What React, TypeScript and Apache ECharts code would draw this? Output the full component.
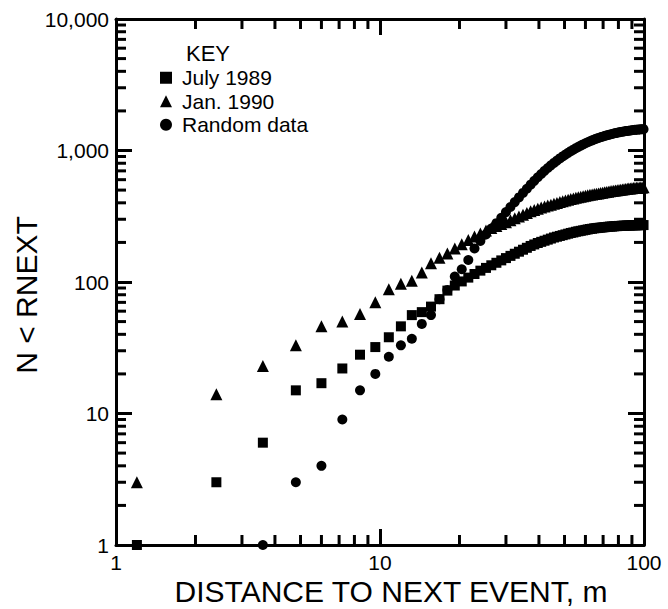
import React, { useEffect, useRef } from "react";
import * as echarts from "echarts";

// Distance to next event (m)
const DISTANCE = [
  1.2, 2.4, 3.6, 4.8, 6.0, 7.2, 8.4, 9.6, 10.8, 12.0,
  13.2, 14.4, 15.6, 16.8, 18.0, 19.2, 20.4, 21.6, 22.8, 24.0,
  25.2, 26.4, 27.6, 28.8, 30.0, 31.2, 32.4, 33.6, 34.8, 36.0,
  37.2, 38.4, 39.6, 40.8, 42.0, 43.2, 44.4, 45.6, 46.8, 48.0,
  49.2, 50.4, 51.6, 52.8, 54.0, 55.2, 56.4, 57.6, 58.8, 60.0,
  61.2, 62.4, 63.6, 64.8, 66.0, 67.2, 68.4, 69.6, 70.8, 72.0,
  73.2, 74.4, 75.6, 76.8, 78.0, 79.2, 80.4, 81.6, 82.8, 84.0,
  85.2, 86.4, 87.6, 88.8, 90.0, 91.2, 92.4, 93.6, 94.8, 96.0,
  97.2, 98.4, 99.6,
];

const JULY_1989 = [
  1, 3, 6, 15, 17, 22, 28, 32, 38, 46,
  56, 59, 65, 74, 86, 94, 101, 108, 115, 122,
  128, 134, 140, 146, 152, 158, 164, 170, 176, 182,
  188, 193, 198, 202, 206, 210, 214, 218, 221, 224,
  227, 230, 233, 236, 238, 241, 243, 245, 247, 249,
  251, 253, 254, 256, 257, 258, 259, 260, 261, 262,
  263, 264, 264, 265, 266, 266, 267, 267, 268, 268,
  268, 269, 269, 269, 270, 270, 270, 270, 270, 271,
  271, 271, 271,
];

const JAN_1990 = [
  3, 14, 23, 33, 46, 50, 57, 70, 88, 97,
  102, 118, 139, 153, 165, 180, 194, 209, 222, 234,
  246, 257, 267, 276, 285, 295, 305, 315, 325, 335,
  345, 353, 361, 368, 375, 381, 387, 393, 399, 405,
  411, 417, 422, 427, 432, 437, 441, 445, 449, 453,
  457, 460, 463, 466, 469, 472, 475, 478, 481, 484,
  486, 489, 491, 494, 496, 499, 501, 503, 505, 507,
  509, 511, 513, 515, 516, 518, 519, 520, 521, 522,
  523, 524, 525,
];

const RANDOM_DATA = [
  null, null, 1, 3, 4, 9, 15, 20, 27, 33,
  37, 48, 56, 74, 87, 110, 125, 147, 180, 205,
  230, 255, 280, 308, 340, 372, 405, 440, 476, 512,
  550, 588, 626, 663, 700, 736, 771, 805, 838, 870,
  901, 931, 960, 988, 1015, 1041, 1066, 1090, 1113, 1135,
  1156, 1176, 1195, 1213, 1230, 1246, 1261, 1275, 1289, 1302,
  1314, 1325, 1336, 1346, 1356, 1365, 1374, 1382, 1390, 1397,
  1404, 1410, 1416, 1421, 1426, 1431, 1435, 1439, 1442, 1445,
  1448, 1450, 1452,
];

const X_TICK_LABELS = ["1", "10", "100"];
const Y_TICK_LABELS = ["1", "10", "100", "1,000", "10,000"];
const X_MINOR = [2, 3, 4, 5, 6, 7, 8, 9, 20, 30, 40, 50, 60, 70, 80, 90];
const Y_MINOR = [
  2, 3, 4, 5, 6, 7, 8, 9,
  20, 30, 40, 50, 60, 70, 80, 90,
  200, 300, 400, 500, 600, 700, 800, 900,
  2000, 3000, 4000, 5000, 6000, 7000, 8000, 9000,
];

const FONT = "'Liberation Sans', Arial, Helvetica, sans-serif";
const INK = "#000";

function pairs(vals: (number | null)[]) {
  const out: number[][] = [];
  vals.forEach((v, i) => {
    if (v !== null && v !== undefined) out.push([DISTANCE[i], v]);
  });
  return out;
}

function logAxis(position: string, min: number, max: number, extra: any = {}) {
  return {
    type: "log",
    position,
    min,
    max,
    axisLine: { show: true, onZero: false, lineStyle: { color: INK, width: 3 } },
    axisTick: { show: true, inside: true, length: 16, lineStyle: { color: INK, width: 3 } },
    splitLine: { show: false },
    axisLabel: { show: false },
    ...extra,
  };
}

// Minor tick marks drawn as small bars placed through the chart's own log axes.
function tickSeries(data: number[][], size: number[], offset: number[]) {
  return {
    type: "scatter",
    symbol: "rect",
    symbolSize: size,
    symbolOffset: offset,
    itemStyle: { color: INK, opacity: 1 },
    data,
    clip: false,
    z: 4,
    emphasis: { disabled: true },
  };
}

export default function App() {
  const ref = useRef<HTMLDivElement>(null);

  useEffect(() => {
    if (!ref.current) return;
    const chart = echarts.init(ref.current, undefined, { renderer: "svg" });

    const L = 10;
    const bottomTicks = X_MINOR.map((v) => [v, 1]);
    const topTicks = X_MINOR.map((v) => [v, 10000]);
    const leftTicks = Y_MINOR.map((v) => [1, v]);
    const rightTicks = Y_MINOR.map((v) => [100, v]);

    chart.setOption({
      animation: false,
      backgroundColor: "#fff",
      grid: {
        left: 116,
        right: 24,
        top: 19,
        bottom: 64,
        containLabel: false,
        outerBoundsMode: "none",
      },
      title: {
        text: "KEY",
        left: 181,
        top: 37,
        textStyle: { fontFamily: FONT, fontSize: 22, fontWeight: "normal", color: INK },
      },
      legend: {
        orient: "vertical",
        left: 155,
        top: 61,
        itemWidth: 12,
        itemHeight: 12,
        itemGap: 0,
        data: ["July 1989", "Jan. 1990", "Random data"],
        textStyle: { fontFamily: FONT, fontSize: 21, color: INK, lineHeight: 23.5, padding: [0, 0, 0, 5] },
      },
      xAxis: [
        logAxis("bottom", 1, 100, {
          name: "DISTANCE TO NEXT EVENT, m",
          nameLocation: "middle",
          nameGap: 31.5,
          nameMoveOverlap: false,
          nameTextStyle: {
            fontFamily: FONT,
            fontSize: 30,
            color: INK,
            padding: [0, 0, 0, 22],
          },
          axisLabel: {
            show: true,
            margin: 7,
            fontFamily: FONT,
            fontSize: 21,
            color: INK,
            formatter: (v: number) => X_TICK_LABELS[Math.round(Math.log10(v))] ?? String(v),
          },
        }),
        logAxis("top", 1, 100),
      ],
      yAxis: [
        logAxis("left", 1, 10000, {
          name: "N < RNEXT",
          nameLocation: "middle",
          nameRotate: 90,
          nameGap: 75,
          nameMoveOverlap: false,
          nameTextStyle: { fontFamily: FONT, fontSize: 30, color: INK, padding: [0, 26, 0, 0] },
          axisLabel: {
            show: true,
            margin: 7,
            fontFamily: FONT,
            fontSize: 21,
            color: INK,
            formatter: (v: number) => Y_TICK_LABELS[Math.round(Math.log10(v))] ?? String(v),
          },
        }),
        logAxis("right", 1, 10000),
      ],
      series: [
        {
          name: "July 1989",
          type: "scatter",
          symbol: "rect",
          symbolSize: 10,
          itemStyle: { color: INK, opacity: 1 },
          data: pairs(JULY_1989),
          clip: false,
          z: 3,
        },
        {
          name: "Jan. 1990",
          type: "scatter",
          symbol: "triangle",
          symbolSize: 12,
          itemStyle: { color: INK, opacity: 1 },
          data: pairs(JAN_1990),
          clip: false,
          z: 3,
        },
        {
          name: "Random data",
          type: "scatter",
          symbol: "circle",
          symbolSize: 10,
          itemStyle: { color: INK, opacity: 1 },
          data: pairs(RANDOM_DATA),
          clip: false,
          z: 3,
        },
        tickSeries(bottomTicks, [3, L], [0, -L / 2]),
        tickSeries(topTicks, [3, L], [0, L / 2]),
        tickSeries(leftTicks, [L, 3], [L / 2, 0]),
        tickSeries(rightTicks, [L, 3], [-L / 2, 0]),
      ],
    });

    return () => chart.dispose();
  }, []);

  return (
    <div
      ref={ref}
      style={{ position: "absolute", left: 0, top: 0, width: 668, height: 609 }}
    />
  );
}
